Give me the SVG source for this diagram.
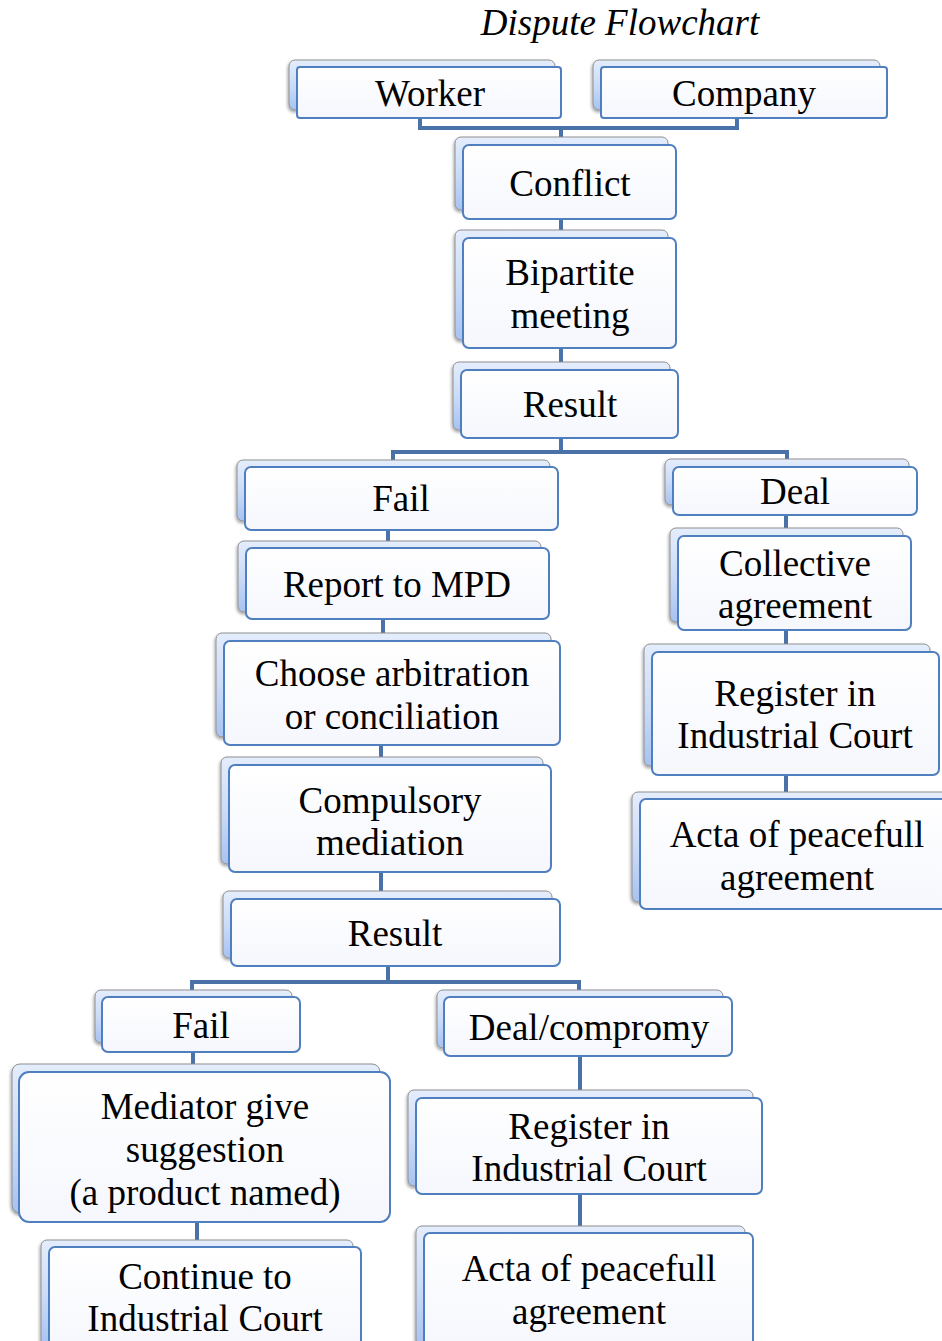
<svg xmlns="http://www.w3.org/2000/svg" width="942" height="1341" viewBox="0 0 942 1341">
<defs>
<linearGradient id="bg" x1="0" y1="0" x2="0" y2="1">
<stop offset="0" stop-color="#e4edfc"/>
<stop offset="0.5" stop-color="#cbdcf8"/>
<stop offset="1" stop-color="#a7c2f1"/>
</linearGradient>
<linearGradient id="fg" x1="0" y1="0" x2="0" y2="1">
<stop offset="0" stop-color="#ffffff"/>
<stop offset="1" stop-color="#f5f7fd"/>
</linearGradient>
<filter id="sh" x="-5%" y="-5%" width="110%" height="115%">
<feDropShadow dx="-1" dy="2" stdDeviation="1.5" flood-color="#000" flood-opacity="0.35"/>
</filter>
</defs>
<style>
.b{fill:url(#bg);stroke:#8f8f8f;stroke-width:1;filter:url(#sh)}
.f{fill:url(#fg);stroke:#4f7fbe;stroke-width:2}
.t{font-family:"Liberation Serif","Times New Roman",serif;font-size:37px;fill:#000;text-anchor:middle}
.c{fill:none;stroke:#4a72a8;stroke-width:4}
</style>
<rect width="942" height="1341" fill="#fff"/>
<text x="620" y="35" class="t" font-style="italic">Dispute Flowchart</text>

<g id="connectors">
<path class="c" d="M420 117 V128 H737 V117 M561 128 V145"/>
<path class="c" d="M561 219 V238 M561 348 V370"/>
<path class="c" d="M561 438 V452 M393 460 V452 H787 V460"/>
<path class="c" d="M388 530 V548 M383 619 V641 M381 745 V765 M381 872 V899"/>
<path class="c" d="M786 515 V536 M786 630 V652 M786 775 V799"/>
<path class="c" d="M388 966 V982 M192 990 V982 H579 V990"/>
<path class="c" d="M193 1052 V1071 M197 1222 V1247"/>
<path class="c" d="M580 1056 V1098 M580 1194 V1233"/>
</g>

<g id="worker"><rect class="b" x="289" y="60" width="266" height="50" rx="6"/><rect class="f" x="297" y="67" width="264" height="51" rx="3"/><text class="t" x="430" y="106">Worker</text></g>
<g id="company"><rect class="b" x="593" y="60" width="287" height="50" rx="6"/><rect class="f" x="601" y="67" width="286" height="51" rx="3"/><text class="t" x="744" y="106">Company</text></g>
<g id="conflict"><rect class="b" x="455" y="137" width="213" height="73" rx="6"/><rect class="f" x="463" y="145" width="213" height="74" rx="6"/><text class="t" x="570" y="196">Conflict</text></g>
<g id="bipartite"><rect class="b" x="455" y="230" width="213" height="110" rx="6"/><rect class="f" x="463" y="238" width="213" height="110" rx="6"/><text class="t" x="570" y="285">Bipartite</text><text class="t" x="570" y="328">meeting</text></g>
<g id="result1"><rect class="b" x="453" y="362" width="217" height="68" rx="6"/><rect class="f" x="461" y="370" width="217" height="68" rx="6"/><text class="t" x="570" y="417">Result</text></g>
<g id="fail1"><rect class="b" x="237" y="460" width="313" height="61" rx="6"/><rect class="f" x="245" y="467" width="313" height="63" rx="6"/><text class="t" x="401" y="511">Fail</text></g>
<g id="deal1"><rect class="b" x="665" y="459" width="244" height="46" rx="6"/><rect class="f" x="673" y="467" width="244" height="48" rx="6"/><text class="t" x="795" y="504">Deal</text></g>
<g id="report"><rect class="b" x="238" y="541" width="303" height="71" rx="6"/><rect class="f" x="246" y="548" width="303" height="71" rx="6"/><text class="t" x="397" y="597">Report to MPD</text></g>
<g id="choose"><rect class="b" x="216" y="633" width="335" height="104" rx="6"/><rect class="f" x="224" y="641" width="336" height="104" rx="6"/><text class="t" x="392" y="686">Choose arbitration</text><text class="t" x="392" y="729">or conciliation</text></g>
<g id="compulsory"><rect class="b" x="221" y="757" width="322" height="107" rx="6"/><rect class="f" x="229" y="765" width="322" height="107" rx="6"/><text class="t" x="390" y="813">Compulsory</text><text class="t" x="390" y="855">mediation</text></g>
<g id="result2"><rect class="b" x="223" y="891" width="329" height="67" rx="6"/><rect class="f" x="231" y="899" width="329" height="67" rx="6"/><text class="t" x="395" y="946">Result</text></g>
<g id="collective"><rect class="b" x="670" y="528" width="233" height="94" rx="6"/><rect class="f" x="678" y="536" width="233" height="94" rx="6"/><text class="t" x="795" y="576">Collective</text><text class="t" x="795" y="618">agreement</text></g>
<g id="register1"><rect class="b" x="644" y="644" width="286" height="122" rx="6"/><rect class="f" x="652" y="652" width="287" height="123" rx="6"/><text class="t" x="795" y="706">Register in</text><text class="t" x="795" y="748">Industrial Court</text></g>
<g id="acta1"><rect class="b" x="632" y="792" width="316" height="110" rx="6"/><rect class="f" x="640" y="799" width="316" height="110" rx="6"/><text class="t" x="797" y="847">Acta of peacefull</text><text class="t" x="797" y="890">agreement</text></g>
<g id="fail2"><rect class="b" x="95" y="990" width="197" height="53" rx="6"/><rect class="f" x="102" y="997" width="198" height="55" rx="6"/><text class="t" x="201" y="1038">Fail</text></g>
<g id="dealcompromy"><rect class="b" x="437" y="990" width="286" height="58" rx="6"/><rect class="f" x="444" y="997" width="288" height="59" rx="6"/><text class="t" x="589" y="1040">Deal/compromy</text></g>
<g id="mediator"><rect class="b" x="12" y="1064" width="368" height="149" rx="8"/><rect class="f" x="19" y="1072" width="371" height="150" rx="10"/><text class="t" x="205" y="1119">Mediator give</text><text class="t" x="205" y="1162">suggestion</text><text class="t" x="205" y="1205">(a product named)</text></g>
<g id="continue"><rect class="b" x="41" y="1240" width="312" height="108" rx="6"/><rect class="f" x="49" y="1247" width="312" height="108" rx="6"/><text class="t" x="205" y="1289">Continue to</text><text class="t" x="205" y="1331">Industrial Court</text></g>
<g id="register2"><rect class="b" x="408" y="1090" width="345" height="96" rx="6"/><rect class="f" x="416" y="1098" width="346" height="96" rx="6"/><text class="t" x="589" y="1139">Register in</text><text class="t" x="589" y="1181">Industrial Court</text></g>
<g id="acta2"><rect class="b" x="416" y="1226" width="329" height="120" rx="6"/><rect class="f" x="424" y="1233" width="329" height="120" rx="6"/><text class="t" x="589" y="1281">Acta of peacefull</text><text class="t" x="589" y="1324">agreement</text></g>
</svg>
